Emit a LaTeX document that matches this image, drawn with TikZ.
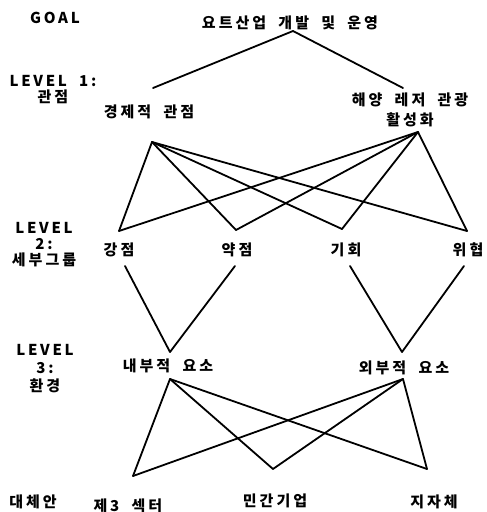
\documentclass[tikz,border=0pt]{standalone}
\usepackage{fontspec}
\newfontfamily\krfont{Noto Sans CJK KR}[LetterSpace=18,WordSpace=2]
\usepackage{tikz}

\XeTeXinterchartokenstate=1
\newXeTeXintercharclass\hanclass
\newcount\hancnt
\hancnt="AC00
\loop
  \XeTeXcharclass\hancnt=\hanclass
  \ifnum\hancnt<"D7A3 \advance\hancnt by 1
\repeat
\XeTeXinterchartoks\hanclass\hanclass={\hskip3pt\relax}

\tikzset{
  lbl/.style={font=\krfont\bfseries\fontsize{15}{16}\selectfont, inner sep=0pt, align=center},
  lvl/.style={lbl},
  link/.style={line width=1.8pt, line cap=round, line join=round}
}

\begin{document}
\begin{tikzpicture}[x=1pt,y=-1pt]
  \useasboundingbox (0,0) rectangle (487,512);
  \begin{scope}
    \node[lvl] (goal) at (55,18) {GOAL};
    \node[lvl] (lv1) at (53,90) {LEVEL 1:\\관점};
    \node[lvl] (lv2) at (44,245) {LEVEL\\2:\\세부그룹};
    \node[lvl, font=\krfont\bfseries\fontsize{15}{18}\selectfont] (lv3) at (45,369) {LEVEL\\3:\\환경};
    \node[lvl] (alt) at (33,502) {대체안};
  \end{scope}
  \begin{scope}
    \node[lbl] (yacht) at (290,23) {요트산업 개발 및 운영};
    \node[lbl] (econ) at (149,112) {경제적 관점};
    \node[lbl, font=\krfont\bfseries\fontsize{15}{20}\selectfont] (marine) at (410,110) {해양 레저 관광\\활성화};
    \node[lbl] (str) at (119,250) {강점};
    \node[lbl] (weak) at (237,250) {약점};
    \node[lbl] (opp) at (346,250) {기회};
    \node[lbl] (thr) at (468,250) {위협};
    \node[lbl] (inner) at (168,366) {내부적 요소};
    \node[lbl] (outer) at (404,368) {외부적 요소};
    \node[lbl] (third) at (128,506) {제3 섹터};
    \node[lbl] (priv) at (275,501) {민간기업};
    \node[lbl] (local) at (434,502) {지자체};
  \end{scope}
  \coordinate (yachtB) at (293,31);
  \coordinate (econT) at (153,88);
  \coordinate (econB) at (152,142);
  \coordinate (marineT) at (403,88);
  \coordinate (marineB) at (418,132);
  \coordinate (strT) at (119,231);
  \coordinate (weakT) at (236,230);
  \coordinate (oppT) at (342,229);
  \coordinate (thrT) at (467,231);
  \coordinate (strB) at (125,266);
  \coordinate (weakB) at (235,266);
  \coordinate (oppB) at (350,266);
  \coordinate (thrB) at (464,266);
  \coordinate (innerT) at (170,352);
  \coordinate (outerT) at (402,352);
  \coordinate (innerB) at (170,379);
  \coordinate (outerB) at (403,379);
  \coordinate (thirdT) at (133,476);
  \coordinate (privT) at (273,469);
  \coordinate (localT) at (427,469);
  \draw[link] (econT) -- (yachtB) -- (marineT);
  \foreach \a in {econB,marineB}
    \foreach \b in {strT,weakT,oppT,thrT}
      \draw[link] (\a) -- (\b);
  \draw[link] (strB) -- (innerT) -- (weakB);
  \draw[link] (oppB) -- (outerT) -- (thrB);
  \foreach \a in {innerB,outerB}
    \foreach \b in {thirdT,privT,localT}
      \draw[link] (\a) -- (\b);
\end{tikzpicture}
\end{document}
